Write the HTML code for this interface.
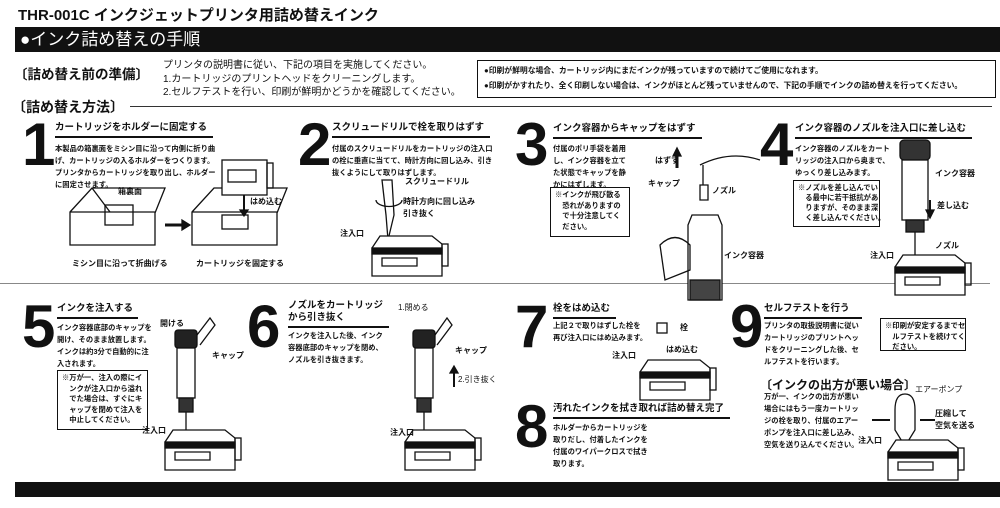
<!DOCTYPE html>
<html><head><meta charset="utf-8"><style>
body{margin:0;width:1000px;height:508px;background:#fff;position:relative;overflow:hidden;font-family:"Liberation Sans","Noto Sans CJK JP",sans-serif;color:#111}
.a{position:absolute;white-space:nowrap}
.n{position:absolute;font-size:60px;font-weight:bold;line-height:50px;letter-spacing:-2px}
.t{position:absolute;font-size:9.5px;font-weight:bold;border-bottom:2px solid #111;padding-bottom:2px;padding-right:6px;white-space:nowrap;line-height:13px}
.p{position:absolute;font-size:7.3px;font-weight:bold;line-height:12px;white-space:nowrap}
.b{position:absolute;border:1.5px solid #111;font-size:7.3px;font-weight:bold;line-height:11px;padding:3px 5px;white-space:nowrap;box-sizing:border-box}
.l{position:absolute;font-size:8px;font-weight:bold;white-space:nowrap}
svg{position:absolute;left:0;top:0}
</style></head><body>
<div class="a" style="left:18px;top:4px;font-size:15px;font-weight:bold">THR-001C インクジェットプリンタ用詰め替えインク</div>
<div class="a" style="left:15px;top:27px;width:985px;height:25px;background:#111"></div>
<div class="a" style="left:20px;top:27px;font-size:17px;color:#fff;line-height:25px">●インク詰め替えの手順</div>
<div class="a" style="left:14px;top:63px;font-size:13.5px;font-weight:bold">〔詰め替え前の準備〕</div>
<div class="a" style="left:163px;top:59px;font-size:10px;line-height:13.5px">プリンタの説明書に従い、下記の項目を実施してください。<br>1.カートリッジのプリントヘッドをクリーニングします。<br>2.セルフテストを行い、印刷が鮮明かどうかを確認してください。</div>
<div class="b" style="left:477px;top:60px;width:519px;height:38px;font-size:7.8px;line-height:15px;padding:2px 6px">●印刷が鮮明な場合、カートリッジ内にまだインクが残っていますので続けてご使用になれます。<br>●印刷がかすれたり、全く印刷しない場合は、インクがほとんど残っていませんので、下記の手順でインクの詰め替えを行ってください。</div>
<div class="a" style="left:12px;top:97px;font-size:14px;font-weight:bold">〔詰め替え方法〕</div>
<div class="a" style="left:130px;top:106px;width:862px;height:1px;background:#333"></div>
<div class="a" style="left:0;top:283px;width:990px;height:1px;background:#888"></div>
<div class="a" style="left:15px;top:482px;width:985px;height:15px;background:#111"></div>

<svg width="1000" height="508" fill="none" stroke="#111" stroke-width="1.3">
<defs>
<g id="cart"><path d="M0 12 L8 0 H60 L70 8 V40 H0 Z" fill="#fff"/><rect x="0" y="12" width="70" height="6" fill="#111"/><path d="M10 22 H45 V30 H10 Z"/><rect x="70" y="8" width="6" height="22"/></g>
<g id="bot"><rect x="0" y="0" width="22" height="18" rx="3" fill="#222"/><rect x="2" y="18" width="18" height="50" fill="#fff"/><rect x="4" y="68" width="14" height="14" fill="#333"/><line x1="11" y1="82" x2="11" y2="105"/></g>
</defs>
<path d="M70 212 L92 188 H165 L155 213 V245 H70 Z M70 212 H155 M92 188 L110 212"/>
<rect x="105" y="205" width="28" height="20"/>
<path d="M192 212 L214 188 H287 L277 213 V245 H192 Z M192 212 H277"/>
<rect x="222" y="215" width="26" height="14"/>
<path d="M165 225 H183" stroke-width="3"/><path d="M182 220 L190 225 L182 230 Z" fill="#111"/>
<rect x="222" y="160" width="45" height="35" fill="#fff"/><rect x="228" y="170" width="28" height="12"/><rect x="267" y="163" width="6" height="25"/>
<line x1="244" y1="195" x2="244" y2="212" stroke-width="2"/><path d="M240 210 L244 216 L248 210Z" fill="#111"/>
<path d="M382 180 H392 L394 215 L388 240 L386 215 Z" fill="#fff"/>
<path d="M376 200 A12 6 0 0 0 402 200"/>
<use href="#cart" x="372" y="236"/>
<path d="M703 165 V185 M700 185 H708 V200 H700Z"/>
<path d="M692 215 H718 L722 225 V300 H688 V225 Z" fill="#fff"/>
<rect x="690" y="280" width="30" height="20" fill="#444"/>
<path d="M660 245 Q675 230 690 245 L690 270 L665 280 Z"/>
<path d="M700 165 Q730 150 760 160"/>
<line x1="677" y1="155" x2="677" y2="168" stroke-width="3"/><path d="M673 156 L677 148 L681 156Z" fill="#111"/>
<rect x="900" y="140" width="30" height="20" rx="4" fill="#333"/><rect x="902" y="160" width="26" height="60" fill="#fff"/><rect x="906" y="220" width="18" height="12" fill="#333"/><line x1="915" y1="232" x2="915" y2="262"/>
<line x1="930" y1="200" x2="930" y2="212" stroke-width="2"/><path d="M926 210 L930 218 L934 210Z" fill="#111"/>
<use href="#cart" x="895" y="255"/>
<use href="#bot" x="175" y="330"/>
<path d="M197 335 L210 318 L215 325 L200 345"/>
<use href="#cart" x="165" y="430"/>
<use href="#bot" x="413" y="330"/>
<path d="M435 335 L447 318 L452 325 L437 345"/>
<use href="#cart" x="405" y="430"/>
<line x1="454" y1="387" x2="454" y2="372" stroke-width="2"/><path d="M450 373 L454 366 L458 373Z" fill="#111"/>
<rect x="657" y="323" width="10" height="10"/>
<use href="#cart" x="640" y="360"/>
<path d="M895 410 Q895 394 905 394 Q915 394 915 410 V430 L907 443 H903 L895 430 Z" fill="#fff"/>
<line x1="872" y1="420" x2="890" y2="420" stroke-width="2"/><line x1="920" y1="420" x2="935" y2="420" stroke-width="2"/>
<use href="#cart" x="888" y="440"/>
</svg>

<div class="n" style="left:22px;top:120px">1</div>
<div class="t" style="left:55px;top:121px">カートリッジをホルダーに固定する</div>
<div class="p" style="left:55px;top:143px">本製品の箱裏面をミシン目に沿って内側に折り曲<br>げ、カートリッジの入るホルダーをつくります。<br>プリンタからカートリッジを取り出し、ホルダー<br>に固定させます。</div>
<div class="l" style="left:118px;top:186px">箱裏面</div>
<div class="l" style="left:250px;top:196px">はめ込む</div>
<div class="l" style="left:72px;top:258px">ミシン目に沿って折曲げる</div>
<div class="l" style="left:196px;top:258px">カートリッジを固定する</div>

<div class="n" style="left:298px;top:120px">2</div>
<div class="t" style="left:332px;top:121px">スクリュードリルで栓を取りはずす</div>
<div class="p" style="left:332px;top:143px">付属のスクリュードリルをカートリッジの注入口<br>の栓に垂直に当てて、時計方向に回し込み、引き<br>抜くようにして取りはずします。</div>
<div class="l" style="left:405px;top:176px">スクリュードリル</div>
<div class="l" style="left:403px;top:196px;line-height:12px">時計方向に回し込み<br>引き抜く</div>
<div class="l" style="left:340px;top:228px">注入口</div>

<div class="n" style="left:515px;top:120px">3</div>
<div class="t" style="left:553px;top:122px">インク容器からキャップをはずす</div>
<div class="p" style="left:553px;top:143px">付属のポリ手袋を着用<br>し、インク容器を立て<br>た状態でキャップを静<br>かにはずします。</div>
<div class="b" style="left:550px;top:187px;width:80px;height:50px;line-height:10.5px;padding:2px 4px">※インクが飛び散る<br>　恐れがありますの<br>　で十分注意してく<br>　ださい。</div>
<div class="l" style="left:655px;top:155px">はずす</div>
<div class="l" style="left:648px;top:178px">キャップ</div>
<div class="l" style="left:712px;top:185px">ノズル</div>
<div class="l" style="left:724px;top:250px">インク容器</div>

<div class="n" style="left:760px;top:120px">4</div>
<div class="t" style="left:795px;top:122px">インク容器のノズルを注入口に差し込む</div>
<div class="p" style="left:795px;top:143px">インク容器のノズルをカート<br>リッジの注入口から奥まで、<br>ゆっくり差し込みます。</div>
<div class="b" style="left:793px;top:180px;width:87px;height:47px;line-height:10px;padding:2px 4px">※ノズルを差し込んでい<br>　る最中に若干抵抗があ<br>　りますが、そのまま深<br>　く差し込んでください。</div>
<div class="l" style="left:935px;top:168px">インク容器</div>
<div class="l" style="left:937px;top:200px">差し込む</div>
<div class="l" style="left:935px;top:240px">ノズル</div>
<div class="l" style="left:870px;top:250px">注入口</div>

<div class="n" style="left:22px;top:302px">5</div>
<div class="t" style="left:57px;top:302px;width:75px">インクを注入する</div>
<div class="p" style="left:57px;top:322px">インク容器底部のキャップを<br>開け、そのまま放置します。<br>インクは約3分で自動的に注<br>入されます。</div>
<div class="b" style="left:57px;top:370px;width:91px;height:60px;line-height:10.5px;padding:2px 4px">※万が一、注入の際にイ<br>　ンクが注入口から溢れ<br>　でた場合は、すぐにキ<br>　ャップを閉めて注入を<br>　中止してください。</div>
<div class="l" style="left:160px;top:318px">開ける</div>
<div class="l" style="left:212px;top:350px">キャップ</div>
<div class="l" style="left:142px;top:425px">注入口</div>

<div class="n" style="left:247px;top:302px">6</div>
<div class="t" style="left:288px;top:300px;width:95px;line-height:12px">ノズルをカートリッジ<br>から引き抜く</div>
<div class="p" style="left:288px;top:330px">インクを注入した後、インク<br>容器底部のキャップを閉め、<br>ノズルを引き抜きます。</div>
<div class="l" style="left:398px;top:302px;font-weight:normal">1.閉める</div>
<div class="l" style="left:455px;top:345px">キャップ</div>
<div class="l" style="left:458px;top:374px;font-weight:normal">2.引き抜く</div>
<div class="l" style="left:390px;top:427px">注入口</div>

<div class="n" style="left:515px;top:302px">7</div>
<div class="t" style="left:553px;top:302px">栓をはめ込む</div>
<div class="p" style="left:553px;top:320px">上記２で取りはずした栓を<br>再び注入口にはめ込みます。</div>
<div class="l" style="left:680px;top:322px">栓</div>
<div class="l" style="left:666px;top:344px">はめ込む</div>
<div class="l" style="left:612px;top:350px">注入口</div>

<div class="n" style="left:515px;top:402px">8</div>
<div class="t" style="left:553px;top:402px">汚れたインクを拭き取れば詰め替え完了</div>
<div class="p" style="left:553px;top:422px">ホルダーからカートリッジを<br>取りだし、付着したインクを<br>付属のワイパークロスで拭き<br>取ります。</div>

<div class="n" style="left:730px;top:302px">9</div>
<div class="t" style="left:764px;top:302px;width:92px">セルフテストを行う</div>
<div class="p" style="left:764px;top:320px">プリンタの取扱説明書に従い<br>カートリッジのプリントヘッ<br>ドをクリーニングした後、セ<br>ルフテストを行います。</div>
<div class="b" style="left:880px;top:318px;width:86px;height:33px;line-height:10.5px;padding:2px 4px">※印刷が安定するまでセ<br>　ルフテストを続けてく<br>　ださい。</div>
<div class="a" style="left:760px;top:376px;font-size:12px;font-weight:bold">〔インクの出方が悪い場合〕</div>
<div class="p" style="left:764px;top:391px;line-height:12px">万が一、インクの出方が悪い<br>場合にはもう一度カートリッ<br>ジの栓を取り、付属のエアー<br>ポンプを注入口に差し込み、<br>空気を送り込んでください。</div>
<div class="l" style="left:915px;top:384px;font-weight:normal">エアーポンプ</div>
<div class="l" style="left:935px;top:408px;line-height:12px">圧縮して<br>空気を送る</div>
<div class="l" style="left:858px;top:435px">注入口</div>
</body></html>
